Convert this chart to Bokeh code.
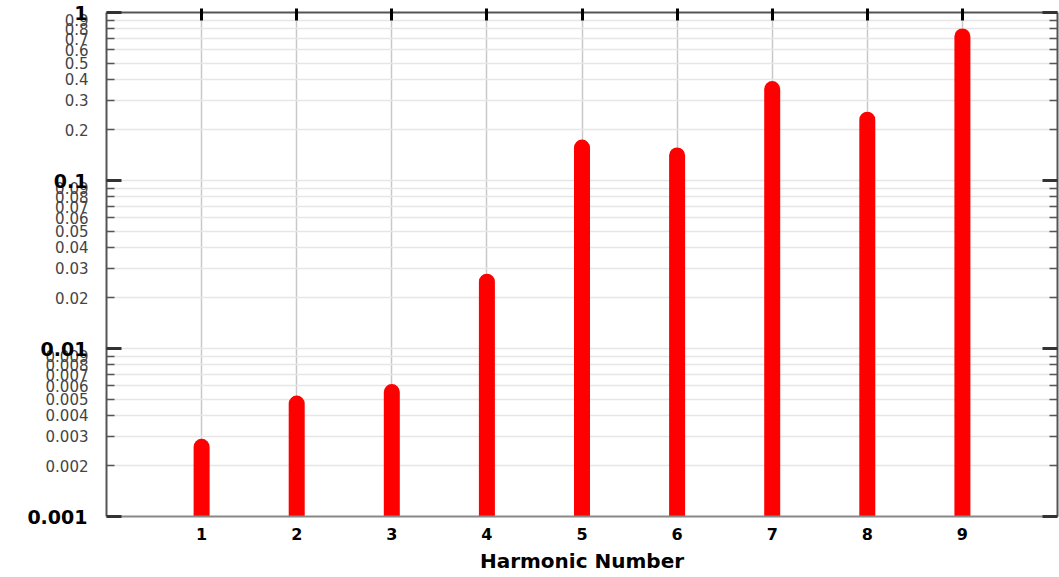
from bokeh.plotting import figure
from bokeh.models import Range1d, FixedTicker, LogAxis, LinearAxis, ColumnDataSource, CustomJSTickFormatter
from bokeh.embed import file_html
from bokeh.resources import INLINE

# ---- data ----
harmonics = [1, 2, 3, 4, 5, 6, 7, 8, 9]
amplitudes = [0.0026, 0.0047, 0.0055, 0.025, 0.157, 0.141, 0.35, 0.23, 0.72]
decade_ticks = [0.001, 0.01, 0.1, 1]
decade_labels = ["0.001", "0.01", "0.1", "1"]
minor_ticks = [m * d for d in [0.001, 0.01, 0.1] for m in range(2, 10)]
minor_labels = {t: ("%g" % t) for t in minor_ticks}
x_label = "Harmonic Number"

y_start, y_end = decade_ticks[0], decade_ticks[-1]
x_start, x_end = 0, 10

p = figure(width=1059, height=577, y_axis_type="log",
           x_range=Range1d(x_start, x_end), y_range=Range1d(y_start, y_end),
           output_backend="svg", toolbar_location=None,
           min_border_left=106, min_border_right=2, min_border_top=12, min_border_bottom=61)
p.outline_line_color = None
p.background_fill_color = "white"

src = ColumnDataSource(dict(x=harmonics, amp=amplitudes, base=[y_start] * len(harmonics)))
p.segment(x0="x", y0="base", x1="x", y1="amp", source=src,
          line_color="#ff0000", line_width=16, line_cap="round")

# grids
p.xgrid.ticker = FixedTicker(ticks=harmonics)
p.xgrid.grid_line_color = "#c8c8c8"
p.xgrid.grid_line_width = 1.5
p.ygrid.ticker = FixedTicker(ticks=minor_ticks + decade_ticks)
p.ygrid.grid_line_color = "#e6e6e6"
p.ygrid.grid_line_width = 1.5

xa = p.below[0]
ya = p.left[0]

# left axis (minor labels)
ya.ticker = FixedTicker(ticks=minor_ticks, minor_ticks=decade_ticks)
ya.major_label_overrides = minor_labels
ya.major_label_text_font = "DejaVu Sans"
ya.major_label_text_font_size = "15px"
ya.major_label_text_color = "#444444"
ya.major_label_standoff = 18
ya.major_tick_in = 8
ya.major_tick_out = 0
ya.major_tick_line_color = "#555555"
ya.major_tick_line_width = 1.5
ya.minor_tick_in = 15
ya.minor_tick_out = 0
ya.minor_tick_line_color = "#333333"
ya.minor_tick_line_width = 3
ya.axis_line_color = "#555555"
ya.axis_line_width = 2

# second left axis (bold decade labels), pulled over the first one
da = LogAxis(ticker=FixedTicker(ticks=decade_ticks, minor_ticks=[]))
da.major_label_overrides = dict(zip(decade_ticks, decade_labels))
da.major_label_text_font = "DejaVu Sans"
da.major_label_text_font_style = "bold"
da.major_label_text_font_size = "19px"
da.major_label_text_color = "black"
da.major_label_standoff = -51
da.major_tick_line_color = None
da.minor_tick_line_color = None
da.axis_line_color = None
p.add_layout(da, "left")

blank = CustomJSTickFormatter(code="return ''")

# right axis (ticks only)
ra = LogAxis(ticker=FixedTicker(ticks=minor_ticks, minor_ticks=decade_ticks), formatter=blank)
ra.major_label_standoff = 0
ra.major_tick_in = 8
ra.major_tick_out = 0
ra.major_tick_line_color = "#555555"
ra.major_tick_line_width = 1.5
ra.minor_tick_in = 15
ra.minor_tick_out = 0
ra.minor_tick_line_color = "#333333"
ra.minor_tick_line_width = 3
ra.axis_line_color = "#555555"
ra.axis_line_width = 2
p.add_layout(ra, "right")

# top axis (ticks only)
ta = LinearAxis(ticker=FixedTicker(ticks=harmonics), formatter=blank)
ta.major_label_standoff = 0
ta.major_tick_in = 8
ta.major_tick_out = 4
ta.major_tick_line_color = "black"
ta.major_tick_line_width = 3
ta.minor_tick_line_color = None
ta.axis_line_color = "#555555"
ta.axis_line_width = 2
p.add_layout(ta, "above")

# bottom axis
xa.ticker = FixedTicker(ticks=harmonics)
xa.major_tick_in = 0
xa.major_tick_out = 0
xa.minor_tick_line_color = None
xa.axis_line_color = "#888888"
xa.axis_line_width = 2
xa.major_label_text_font = "DejaVu Sans"
xa.major_label_text_font_style = "bold"
xa.major_label_text_font_size = "16px"
xa.major_label_text_color = "black"
xa.major_label_standoff = 11
xa.axis_label = x_label
xa.axis_label_text_font = "DejaVu Sans"
xa.axis_label_text_font_style = "bold"
xa.axis_label_text_font_size = "20px"
xa.axis_label_text_color = "black"
xa.axis_label_standoff = 6

open("out.html", "w").write(file_html(p, INLINE))
